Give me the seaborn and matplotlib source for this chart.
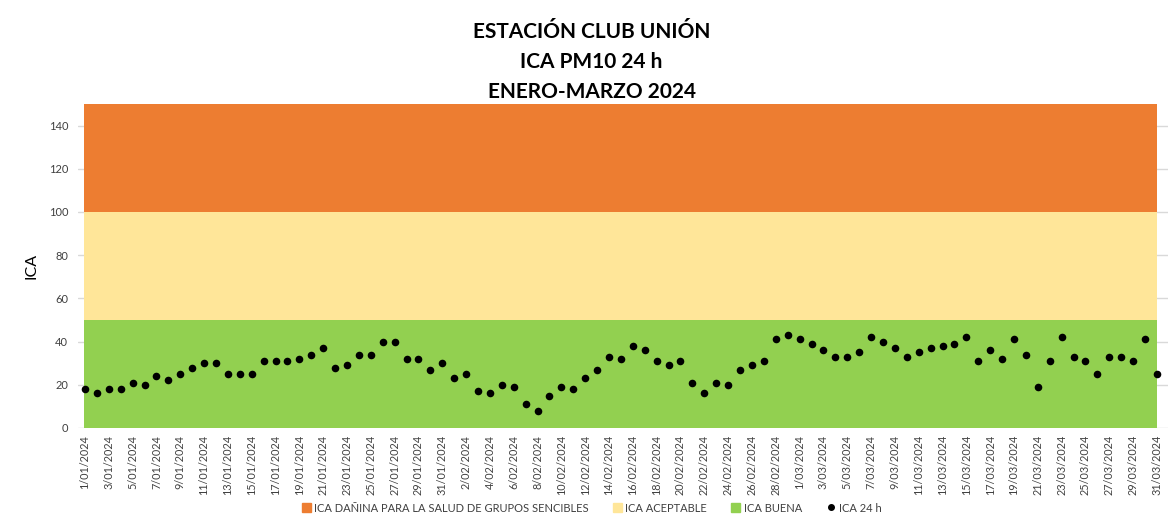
import matplotlib
matplotlib.use('Agg')
import matplotlib.pyplot as plt
import seaborn as sns
import pandas as pd
from matplotlib.patches import Patch
from matplotlib.lines import Line2D

# datos
days_jan = list(range(1, 32))
days_feb = list(range(1, 30))
days_mar = list(range(1, 32))
fechas = ([f'{d}/01/2024' for d in days_jan] + [f'{d}/02/2024' for d in days_feb]
          + [f'{d}/03/2024' for d in days_mar])

ica_jan = [18, 16, 18, 18, 21, 20, 24, 22, 25, 28, 30, 30, 25, 25, 25, 31,
           31, 31, 32, 34, 37, 28, 29, 34, 34, 40, 40, 32, 32, 27, 30]
ica_feb = [23, 25, 17, 16, 20, 19, 11, 8, 15, 19, 18, 23, 27, 33, 32, 38,
           36, 31, 29, 31, 21, 16, 21, 20, 27, 29, 31, 41, 43]
ica_mar = [41, 39, 36, 33, 33, 35, 42, 40, 37, 33, 35, 37, 38, 39, 42, 31,
           36, 32, 41, 34, 19, 31, 42, 33, 31, 25, 33, 33, 31, 41, 25]
ica = ica_jan + ica_feb + ica_mar

bandas = ['ICA BUENA', 'ICA ACEPTABLE', 'ICA DAÑINA PARA LA SALUD DE GRUPOS SENCIBLES']
limites = [0, 50, 100, 150]
colores = ['#92D050', '#FFE699', '#ED7D31']

df = pd.DataFrame({'dia': range(len(ica)), 'ica': ica, 'fecha': fechas})

sns.set_style('white')
plt.rcParams['font.family'] = ['Lato', 'DejaVu Sans']

fig = plt.figure(figsize=(11.69, 5.25), dpi=100)
ax = fig.add_axes([78 / 1169, 1 - 428 / 525, 1 - 78 / 1169 - 0.001, (428 - 104) / 525])

n = len(ica)
for i in range(3):
    ax.fill_between([-0.1, n - 1], limites[i], limites[i + 1], color=colores[i],
                    linewidth=0, zorder=1)

sns.scatterplot(data=df, x='dia', y='ica', color='black', s=30, edgecolor='black',
                linewidth=0, ax=ax, zorder=3, clip_on=False)

ax.set_xlim(-0.59, n - 1 + 0.92)
ax.set_ylim(0, 150)
ax.set_yticks(range(0, 141, 20))
ax.yaxis.grid(True, color='#D9D9D9', linewidth=1, zorder=0)
ax.set_axisbelow(True)
ax.set_xticks(df['dia'][::2])
ax.set_xticklabels(df['fecha'][::2], rotation=90, fontsize=7.8, color='#404040')
ax.tick_params(axis='x', length=0, pad=5)
ax.tick_params(axis='y', length=0, pad=7, labelsize=8, labelcolor='#404040')
for s in ax.spines.values():
    s.set_visible(False)
ax.set_xlabel('')
ax.set_ylabel('ICA', fontsize=11.5, color='#000000')
ax.yaxis.set_label_coords((38 - 78) / 1091, 0.5)

titulos = ['ESTACIÓN CLUB UNIÓN', 'ICA PM10 24 h', 'ENERO-MARZO 2024']
for t, y in zip(titulos, [32, 62, 92]):
    fig.text(0.506, 1 - y / 525, t, ha='center', va='center', fontsize=15,
             fontweight='bold', color='black')

handles = [Patch(color=colores[2]), Patch(color=colores[1]), Patch(color=colores[0]),
           Line2D([], [], marker='o', color='black', linestyle='', markersize=4)]
labels = [bandas[2], bandas[1], bandas[0], 'ICA 24 h']
fig.legend(handles, labels, loc='center', bbox_to_anchor=(0.506, 1 - 508 / 525), ncol=4,
           frameon=False, fontsize=8, handlelength=0.8, handleheight=0.8,
           handletextpad=0.3, columnspacing=2.2, labelcolor='#404040')

fig.savefig('out.png', dpi=100)
